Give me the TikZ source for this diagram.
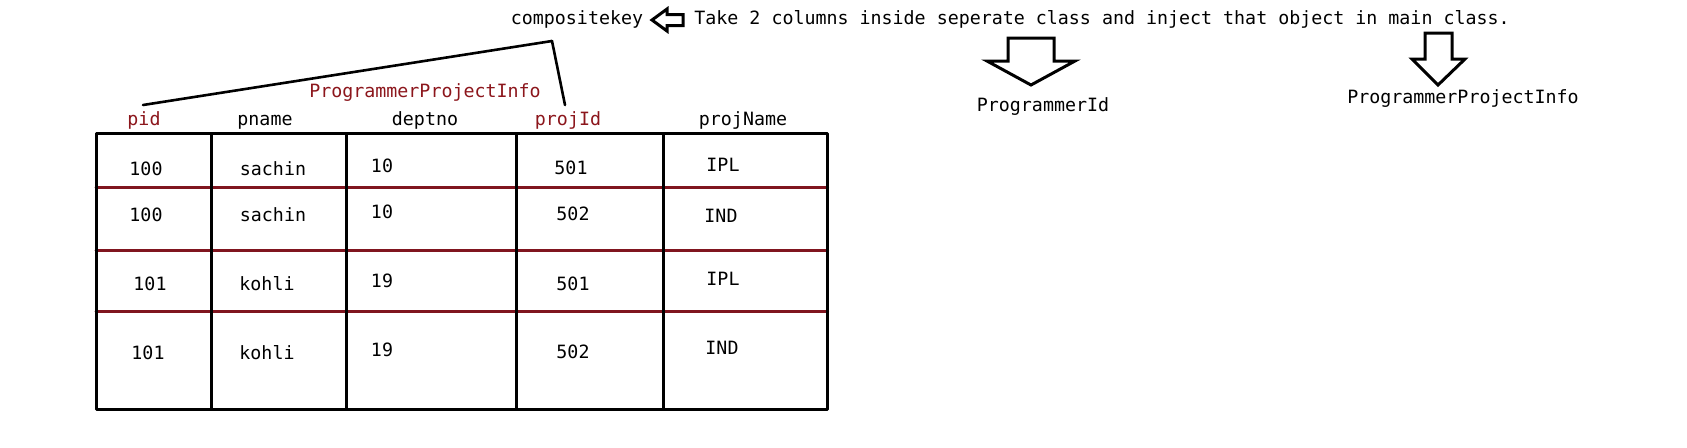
\documentclass[tikz,border=0pt]{standalone}
\usepackage{fontspec}
\setmonofont{DejaVu Sans Mono}
\usepackage{tikz}
\usepackage{tkz-euclide}
\usepackage{xcolor}
\definecolor{keyred}{RGB}{140,22,28}
\definecolor{rowred}{RGB}{128,21,31}

\begin{document}
\begin{tikzpicture}[x=0.5pt,y=-0.5pt,
  txt/.style={font=\ttfamily\fontsize{9.15}{11}\selectfont,inner sep=0pt,text height=1.5ex,text depth=0.25ex},
  head/.style={txt,text=keyred},
  hollow/.style={draw=black,line width=1.5pt,line join=miter,fill=white}]
	    \useasboundingbox (0,0) rectangle (1687,447);
	    % table grid
	    \tkzDefPoint(96,133.5){t_0}
	    \tkzDefPoint(827.5,133.5){t_1}
	    \tkzDefPoint(827.5,409){t_2}
	    \tkzDefPoint(96,409){t_3}
	    \tkzDefPoint(211,133.5){c_1}
	    \tkzDefPoint(211,409){d_1}
	    \tkzDefPoint(346.5,133.5){c_2}
	    \tkzDefPoint(346.5,409){d_2}
	    \tkzDefPoint(516.5,133.5){c_3}
	    \tkzDefPoint(516.5,409){d_3}
	    \tkzDefPoint(663,133.5){c_4}
	    \tkzDefPoint(663,409){d_4}
	    \tkzDefPoint(96,187){r_1}
	    \tkzDefPoint(827.5,187){s_1}
	    \tkzDefPoint(96,250){r_2}
	    \tkzDefPoint(827.5,250){s_2}
	    \tkzDefPoint(96,311){r_3}
	    \tkzDefPoint(827.5,311){s_3}
	    \tkzDrawSegments[rowred,line width=1.5pt](r_1,s_1 r_2,s_2 r_3,s_3)
	    \tkzDrawSegments[black,line width=1.5pt](c_1,d_1 c_2,d_2 c_3,d_3 c_4,d_4)
	    \tkzDrawPolygon[black,line width=1.5pt](t_0,t_1,t_2,t_3)
	    % column heads
	    \node[head] (pid) at (144,120.5) {pid};
	    \node[txt] (pname) at (265,120.5) {pname};
	    \node[txt] (deptno) at (425,120.5) {deptno};
	    \node[head] (projId) at (568,120.5) {projId};
	    \node[txt] (projName) at (743,120.5) {projName};
	    \node[head] (info) at (425,92.5) {ProgrammerProjectInfo};
	    % rows
	    \node[txt] (p_1) at (146,170) {100};
	    \node[txt] (n_1) at (273,170) {sachin};
	    \node[txt] (e_1) at (382,167) {10};
	    \node[txt] (j_1) at (571,169) {501};
	    \node[txt] (m_1) at (723,166) {IPL};
	    \node[txt] (p_2) at (146,216) {100};
	    \node[txt] (n_2) at (273,216) {sachin};
	    \node[txt] (e_2) at (382,213) {10};
	    \node[txt] (j_2) at (573,215) {502};
	    \node[txt] (m_2) at (721,217) {IND};
	    \node[txt] (p_3) at (150,285) {101};
	    \node[txt] (n_3) at (267,285) {kohli};
	    \node[txt] (e_3) at (382,282) {19};
	    \node[txt] (j_3) at (573,285) {501};
	    \node[txt] (m_3) at (723,280) {IPL};
	    \node[txt] (p_4) at (148,354) {101};
	    \node[txt] (n_4) at (267,354) {kohli};
	    \node[txt] (e_4) at (382,351) {19};
	    \node[txt] (j_4) at (573,353) {502};
	    \node[txt] (m_4) at (722,349) {IND};
	    % composite key bracket
	    \tkzDefPoint(143,105){k_0}
	    \tkzDefPoint(552,41){k_1}
	    \tkzDefPoint(565,105){k_2}
	    \tkzDrawSegments[black,line width=1.3pt](k_0,k_1 k_1,k_2)
	    \node[txt] (ckey) at (577,19.4) {compositekey};
	    \node[txt,anchor=west] (note) at (694,19.4) {Take 2 columns inside seperate class and inject that object in main class.};
	    % hollow arrows
	    \draw[hollow] (652,20) -- (667,9) -- (667,14.5) -- (683,14.5) -- (683,25.5) -- (667,25.5) -- (667,31) -- cycle;
	    \draw[hollow] (1008,38) -- (1054,38) -- (1054,61) -- (1075,61) -- (1031,85) -- (987,61) -- (1008,61) -- cycle;
	    \draw[hollow] (1425,33) -- (1452,33) -- (1452,59) -- (1465,59) -- (1438,85) -- (1412,59) -- (1425,59) -- cycle;
	    \node[txt] (pgmId) at (1043,106.5) {ProgrammerId};
	    \node[txt] (pgmInfo) at (1463,98) {ProgrammerProjectInfo};
	\end{tikzpicture}
\end{document}
